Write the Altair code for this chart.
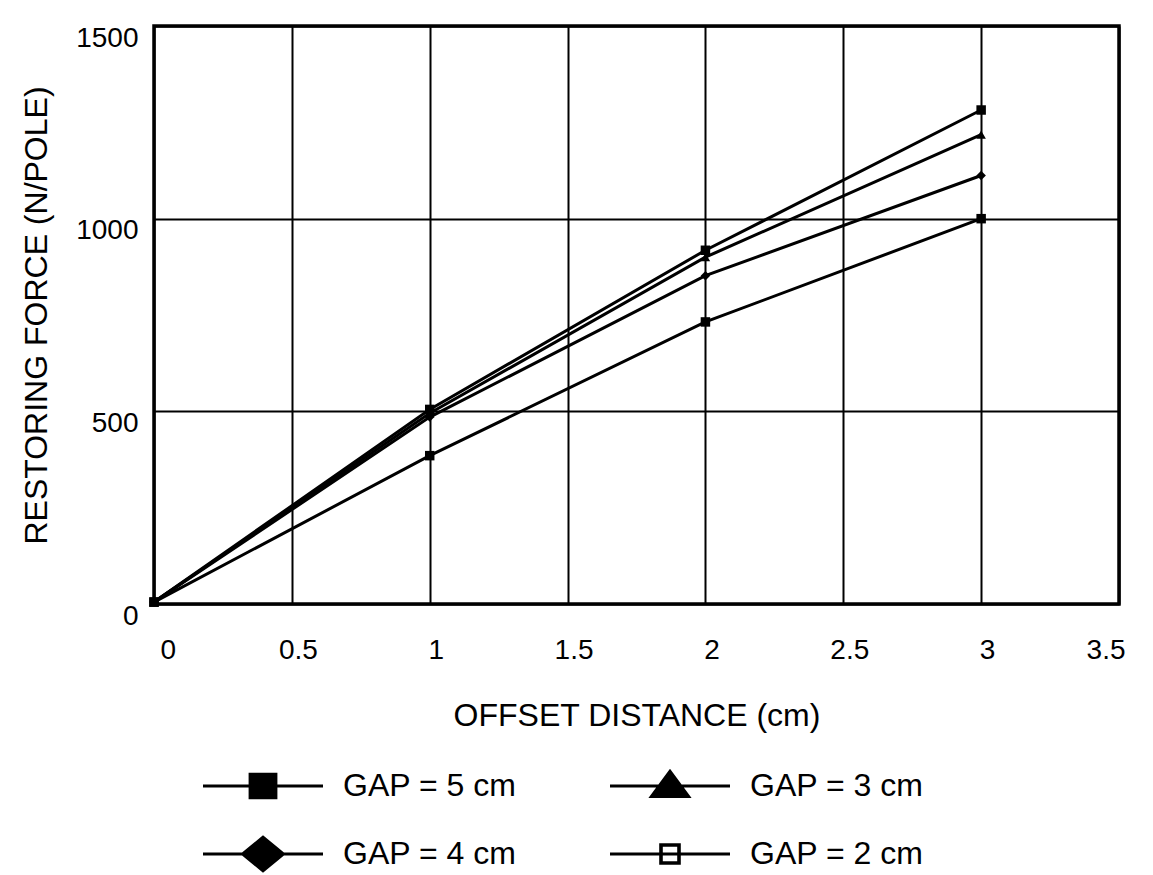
import altair as alt
import pandas as pd

# ---- data ----
offset_cm = [0, 1, 2, 3]
series_names = ["GAP = 5 cm", "GAP = 3 cm", "GAP = 4 cm", "GAP = 2 cm"]
gap5_force = [5, 385, 732, 1000]
gap4_force = [5, 485, 852, 1112]
gap3_force = [5, 495, 900, 1218]
gap2_force = [5, 505, 918, 1282]

x_ticks = [0, 0.5, 1, 1.5, 2, 2.5, 3, 3.5]
y_ticks = [0, 500, 1000, 1500]

values_by_series = {
    "GAP = 5 cm": gap5_force,
    "GAP = 3 cm": gap3_force,
    "GAP = 4 cm": gap4_force,
    "GAP = 2 cm": gap2_force,
}
rows = []
for name in series_names:
    for xv, yv in zip(offset_cm, values_by_series[name]):
        rows.append({"offset": xv, "force": yv, "series": name})
df = pd.DataFrame(rows)

FONT = "Liberation Sans"

# legend symbols: a horizontal line with the marker drawn on it
LINE = "M-1,-0.06 L4,-0.06 L4,0.06 L-1,0.06 Z "
legend_paths = [
    LINE + "M0.9,-0.55 L2.1,-0.55 L2.1,0.55 L0.9,0.55 Z",                 # filled square
    LINE + "M1.5,-0.72 L2.4,0.5 L0.6,0.5 Z",                               # triangle
    LINE + "M1.5,-0.78 L2.45,0 L1.5,0.78 L0.55,0 Z",                       # diamond
    LINE + "M1.05,-0.45 L1.95,-0.45 L1.95,0.45 L1.05,0.45 Z "
           "M1.2,-0.3 L1.2,0.3 L1.8,0.3 L1.8,-0.3 Z",                      # open square
]
plot_shapes = ["square", "triangle-up", "diamond", "square"]

x_enc = alt.X(
    "offset:Q",
    scale=alt.Scale(domain=[0, 3.5], nice=False),
    axis=alt.Axis(
        values=x_ticks, format="~g", title="OFFSET DISTANCE (cm)",
        labelPadding=32, labelOffset=6, titlePadding=36,
    ),
)
y_enc = alt.Y(
    "force:Q",
    scale=alt.Scale(domain=[0, 1500], nice=False),
    axis=alt.Axis(
        values=y_ticks, format="d", title="RESTORING FORCE (N/POLE)",
        labelPadding=16, labelOffset=12, titlePadding=22,
    ),
)

lines = alt.Chart(df).mark_line(color="black", strokeWidth=3).encode(
    x=x_enc, y=y_enc, detail="series:N"
)

points = alt.Chart(df).mark_point(filled=True, color="black", opacity=1, size=90).encode(
    x="offset:Q",
    y="force:Q",
    shape=alt.Shape("series:N", scale=alt.Scale(domain=series_names, range=plot_shapes), legend=None),
)

legend_layer = alt.Chart(df).transform_filter("datum.offset < 0").mark_point(
    filled=True, color="black", opacity=1
).encode(
    x="offset:Q",
    y="force:Q",
    shape=alt.Shape(
        "series:N",
        title=None,
        scale=alt.Scale(domain=series_names, range=legend_paths),
        legend=alt.Legend(
            orient="none",
            legendX=49,
            legendY=736,
            columns=2,
            direction="horizontal",
            symbolSize=2304,
            symbolFillColor="black",
            symbolStrokeWidth=0,
            symbolOpacity=1,
            labelOffset=92,
            labelFontSize=32,
            labelFont=FONT,
            labelColor="black",
            columnPadding=93,
            rowPadding=28,
            padding=0,
            labelLimit=400,
        ),
    ),
)

chart = (
    alt.layer(lines, points, legend_layer)
    .resolve_scale(shape="independent")
    .properties(
        width=965, height=578, background="white",
        padding={"left": 12, "top": 16, "right": 20, "bottom": 5},
    )
    .configure_view(stroke="black", strokeWidth=3.5)
    .configure_axis(
        grid=True, gridColor="black", gridWidth=2, gridOpacity=1,
        domain=False, ticks=False,
        labelFont=FONT, labelFontSize=28, labelColor="black",
        titleFont=FONT, titleFontSize=32, titleFontWeight="normal", titleColor="black",
    )
)

chart.save("out.html", embed_options={"renderer": "svg", "actions": False})
